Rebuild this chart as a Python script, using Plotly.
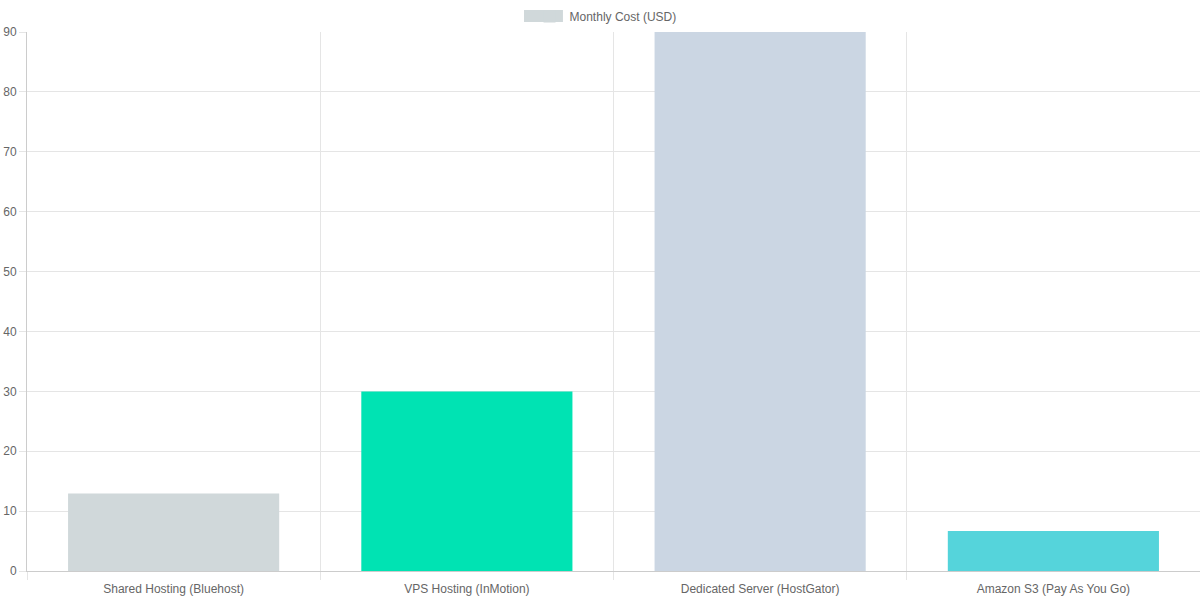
import plotly.graph_objects as go

categories = ["Shared Hosting (Bluehost)", "VPS Hosting (InMotion)",
              "Dedicated Server (HostGator)", "Amazon S3 (Pay As You Go)"]
monthly_cost = [12.95, 29.99, 89.99, 6.69]
bar_colors = ["#d0d8da", "#00e3b3", "#cbd6e3", "#55d4db"]
y_ticks = [0, 10, 20, 30, 40, 50, 60, 70, 80, 90]

font = dict(family="Liberation Sans, Arial, Helvetica, sans-serif", size=12, color="#666666")

fig = go.Figure(go.Bar(
    x=categories, y=monthly_cost, name="Monthly Cost (USD)",
    marker=dict(color=bar_colors, line=dict(width=0)),
    width=0.72, showlegend=True,
))

fig.update_layout(
    width=1200, height=600,
    margin=dict(l=27, r=0, t=32, b=29),
    paper_bgcolor="white", plot_bgcolor="white",
    font=font,
    legend=dict(orientation="h", x=0.4932, xanchor="center", y=1.002, yanchor="bottom",
                font=font, bgcolor="rgba(0,0,0,0)"),
    bargap=0.28,
    shapes=[dict(type="rect", xref="paper", yref="paper",
                 x0=0.4237, x1=0.4569, y0=1.0186, y1=1.0408,
                 fillcolor=bar_colors[0], line=dict(width=0), layer="above")],
)
fig.update_xaxes(
    type="category", tickson="boundaries", ticks="outside", ticklen=8,
    tickcolor="#e5e5e5", showgrid=True, gridcolor="#e5e5e5", gridwidth=1,
    showline=True, linecolor="#cccccc", linewidth=1,
    tickfont=font, range=[-0.5, 3.5], ticklabelstandoff=7,
)
fig.update_yaxes(
    range=[0, 90], tickvals=y_ticks, ticks="outside", ticklen=7,
    tickcolor="#e5e5e5", showgrid=True, gridcolor="#e5e5e5", gridwidth=1,
    showline=True, linecolor="#cccccc", linewidth=1, zeroline=False,
    tickfont=font, ticklabelstandoff=0,
)

fig.write_html("out.html", config={"displayModeBar": False},
               post_script="document.body.style.margin='0';")
